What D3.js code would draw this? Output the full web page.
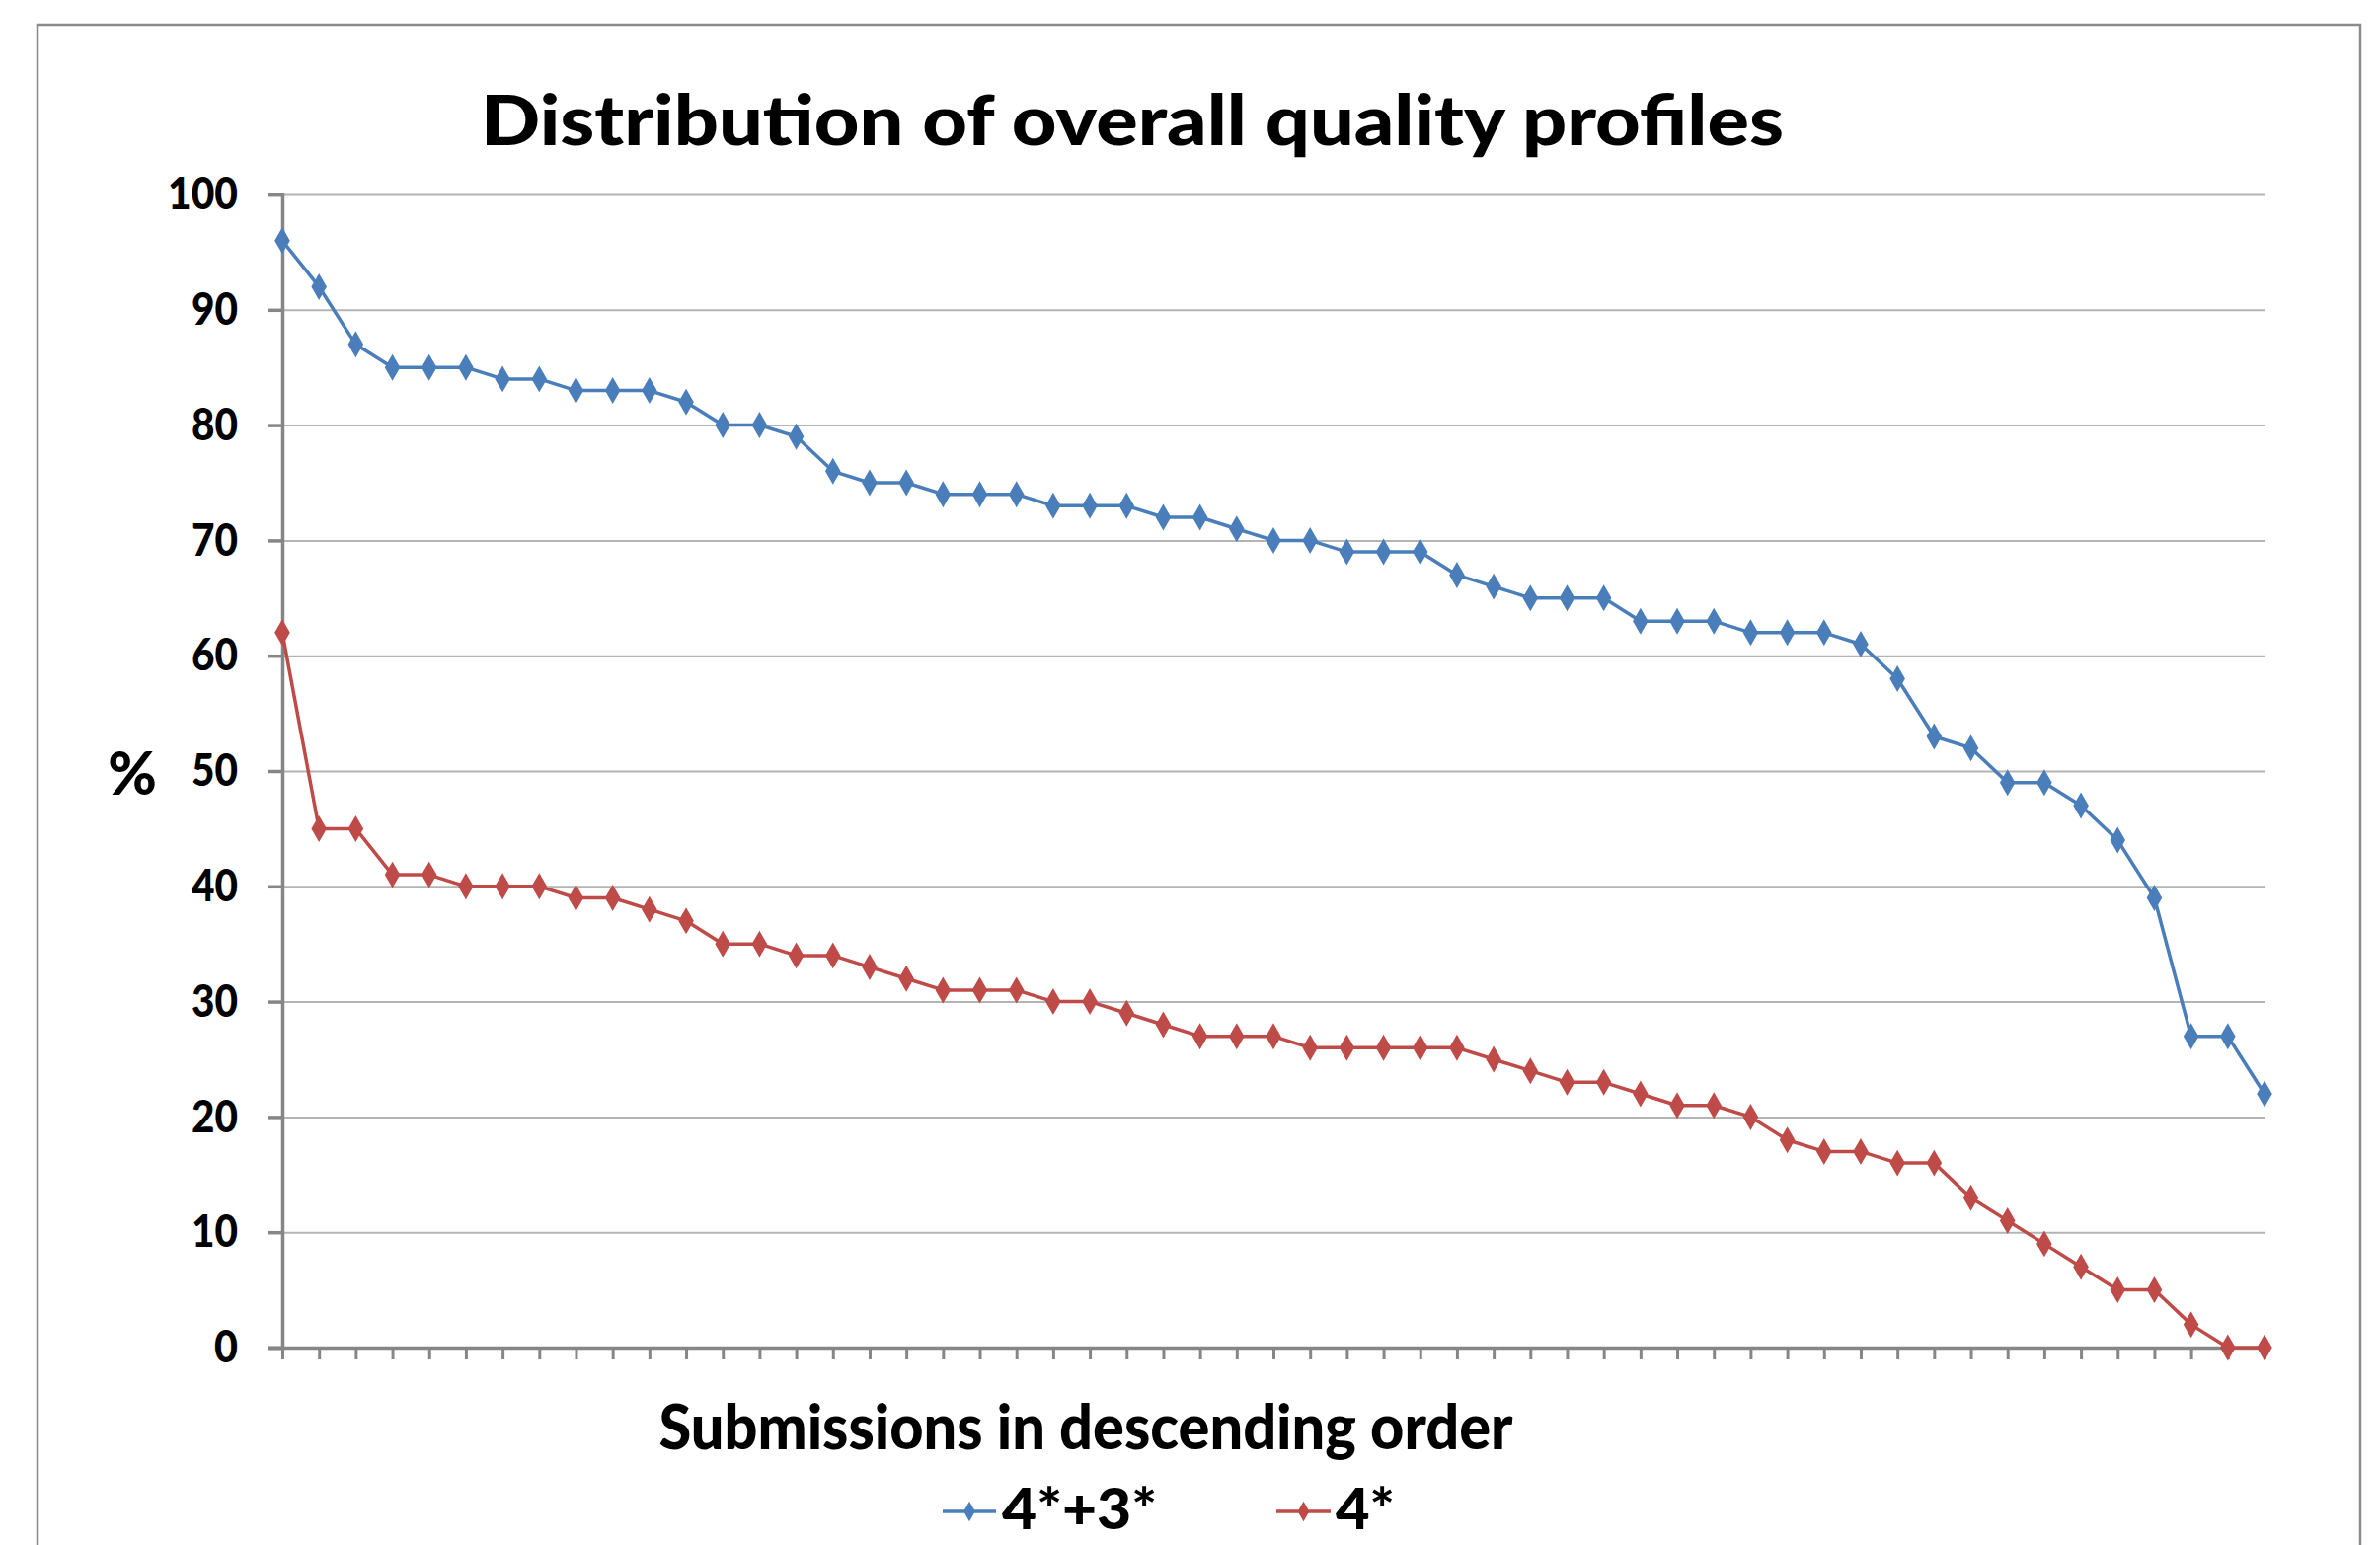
<!DOCTYPE html>
<html>
<head>
<meta charset="utf-8">
<script src="https://cdn.jsdelivr.net/npm/d3@7"></script>
<style>
  html, body { margin: 0; padding: 0; background: #ffffff; }
  svg { display: block; }
  text { font-family: Lato, "Open Sans", "DejaVu Sans", sans-serif; font-weight: 900; fill: #000; }
</style>
</head>
<body>
<script>
// ---- data ----
const chartTitle = "Distribution of overall quality profiles";
const xTitle = "Submissions in descending order";
const yTitle = "%";
const seriesNames = ["4*+3*", "4*"];
const categories = d3.range(1, 56);
const series43 = [96, 92, 87, 85, 85, 85, 84, 84, 83, 83, 83, 82, 80, 80, 79, 76, 75, 75, 74, 74,
                  74, 73, 73, 73, 72, 72, 71, 70, 70, 69, 69, 69, 67, 66, 65, 65, 65, 63, 63, 63,
                  62, 62, 62, 61, 58, 53, 52, 49, 49, 47, 44, 39, 27, 27, 22];
const series4 = [62, 45, 45, 41, 41, 40, 40, 40, 39, 39, 38, 37, 35, 35, 34, 34, 33, 32, 31, 31,
                 31, 30, 30, 29, 28, 27, 27, 27, 26, 26, 26, 26, 26, 25, 24, 23, 23, 22, 21, 21,
                 20, 18, 17, 17, 16, 16, 13, 11, 9, 7, 5, 5, 2, 0, 0];
const yTicks = [0, 10, 20, 30, 40, 50, 60, 70, 80, 90, 100];
const colors = ["#4a7ebb", "#be4b48"];

// ---- layout ----
const W = 2411, H = 1565;
const plot = { left: 286, right: 2294, top: 197, bottom: 1365 };

const svg = d3.select("body").append("svg").attr("width", W).attr("height", H);

// outer border
svg.append("rect")
  .attr("x", 38).attr("y", 25)
  .attr("width", 2391 - 38).attr("height", 1700)
  .attr("fill", "none").attr("stroke", "#8a8a8a").attr("stroke-width", 2.5);

const x = d3.scalePoint().domain(categories).range([plot.left, plot.right]).padding(0);
const y = d3.scaleLinear().domain([0, 100]).range([plot.bottom, plot.top]);

// gridlines
const grid = svg.append("g").attr("transform", `translate(${plot.left},0)`)
  .call(d3.axisLeft(y).tickValues(yTicks.filter(d => d > 0)).tickSize(-(plot.right - plot.left)).tickFormat(""));
grid.select(".domain").remove();
grid.selectAll("line").attr("stroke", "#b4b4b4").attr("stroke-width", 2);

// y axis
const yAxis = svg.append("g").attr("transform", `translate(${plot.left},0)`)
  .call(d3.axisLeft(y).tickValues(yTicks).tickSize(15).tickPadding(30).tickFormat(d3.format("d")));
yAxis.select(".domain").attr("stroke", "#868686").attr("stroke-width", 3.5);
yAxis.selectAll(".tick line").attr("stroke", "#868686").attr("stroke-width", 3.5);
yAxis.selectAll(".tick text")
  .style("font-family", "Lato, 'Open Sans', sans-serif")
  .style("font-weight", "900")
  .attr("font-size", 46).attr("fill", "#000")
  .attr("textLength", d => d >= 100 ? 71 : (d > 0 ? 47 : 24))
  .attr("lengthAdjust", "spacingAndGlyphs");

// x axis
const xAxis = svg.append("g").attr("transform", `translate(0,${plot.bottom})`)
  .call(d3.axisBottom(x).tickSize(12).tickFormat(""));
xAxis.select(".domain").attr("stroke", "#868686").attr("stroke-width", 3.5)
  .attr("d", `M${plot.left - 15},0.5H${plot.right}`);
xAxis.selectAll(".tick line").attr("stroke", "#868686").attr("stroke-width", 3);

// series
const diamond = d3.symbol().type(d3.symbolDiamond).size(210);
[series43, series4].forEach((vals, i) => {
  const pts = vals.map((v, j) => [x(categories[j]), y(v)]);
  svg.append("path")
    .attr("d", d3.line()(pts))
    .attr("fill", "none").attr("stroke", colors[i]).attr("stroke-width", 3.5)
    .attr("stroke-linejoin", "round");
  svg.append("g").selectAll("path").data(pts).join("path")
    .attr("transform", d => `translate(${d[0]},${d[1]})`)
    .attr("d", diamond)
    .attr("fill", colors[i]);
});

// title
svg.append("text")
  .attr("x", 1147).attr("y", 147)
  .attr("text-anchor", "middle")
  .attr("font-size", 70)
  .attr("textLength", 1320).attr("lengthAdjust", "spacingAndGlyphs")
  .text(chartTitle);

// y title
svg.append("text")
  .attr("x", 134).attr("y", 805)
  .attr("text-anchor", "middle")
  .attr("font-size", 60)
  .text(yTitle);

// x title
svg.append("text")
  .attr("x", 1100).attr("y", 1468)
  .attr("text-anchor", "middle")
  .attr("font-size", 62)
  .attr("textLength", 865).attr("lengthAdjust", "spacingAndGlyphs")
  .text(xTitle);

// legend
const legendItems = [
  { name: seriesNames[0], color: colors[0], x0: 955, x1: 1009, tx: 1015, tw: 157 },
  { name: seriesNames[1], color: colors[1], x0: 1293, x1: 1348, tx: 1353, tw: 60 }
];
const legendY = 1531;
const lg = svg.append("g").selectAll("g").data(legendItems).join("g");
lg.append("line")
  .attr("x1", d => d.x0).attr("x2", d => d.x1)
  .attr("y1", legendY).attr("y2", legendY)
  .attr("stroke", d => d.color).attr("stroke-width", 3.5);
lg.append("path")
  .attr("transform", d => `translate(${(d.x0 + d.x1) / 2},${legendY})`)
  .attr("d", d3.symbol().type(d3.symbolDiamond).size(120))
  .attr("fill", d => d.color);
lg.append("text")
  .attr("x", d => d.tx).attr("y", 1549)
  .attr("font-size", 58)
  .attr("textLength", d => d.tw).attr("lengthAdjust", "spacingAndGlyphs")
  .text(d => d.name);
</script>
</body>
</html>
